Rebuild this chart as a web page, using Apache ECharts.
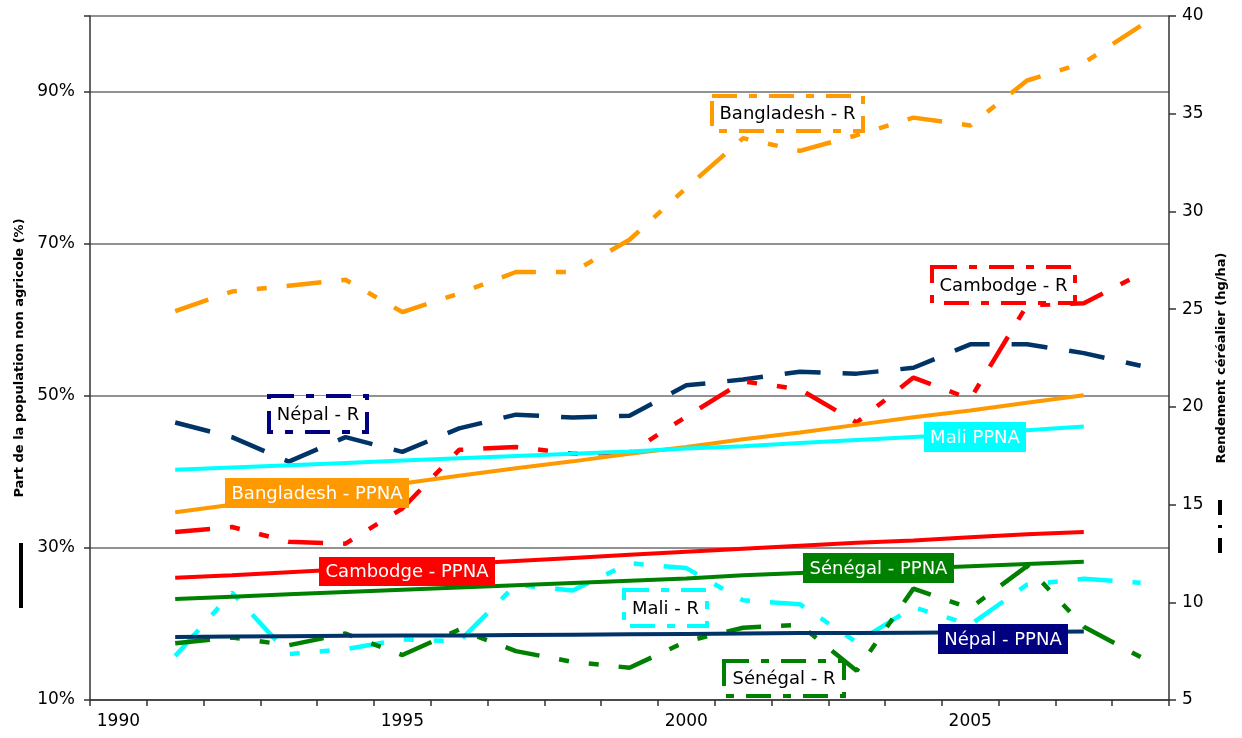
<!DOCTYPE html>
<html>
<head>
<meta charset="utf-8">
<title>PPNA et rendement céréalier</title>
<script src="https://cdn.jsdelivr.net/npm/echarts@6/dist/echarts.min.js"></script>
<style>
  html, body { margin: 0; padding: 0; background: #fff; }
  #main { width: 1242px; height: 738px; }
</style>
</head>
<body>
<div id="main"></div>
<script>
// années (axe des abscisses)
var years = ['1990', '1991', '1992', '1993', '1994', '1995', '1996', '1997', '1998', '1999',
  '2000', '2001', '2002', '2003', '2004', '2005', '2006', '2007', '2008'];

// part de la population non agricole (%), 1991-2007
var bangladeshPPNA = [null, 34.7, 35.7, 36.6, 37.6, 38.5, 39.5, 40.5, 41.4, 42.4, 43.3, 44.3, 45.2, 46.2, 47.2, 48.1, 49.1, 50.1, null];
var maliPPNA = [null, 40.3, 40.6, 40.9, 41.2, 41.5, 41.8, 42.1, 42.4, 42.7, 43.1, 43.4, 43.8, 44.2, 44.6, 45.0, 45.5, 46.0, null];
var cambodgePPNA = [null, 26.1, 26.4, 26.8, 27.2, 27.6, 27.9, 28.3, 28.7, 29.1, 29.5, 29.9, 30.3, 30.7, 31.0, 31.4, 31.8, 32.1, null];
var senegalPPNA = [null, 23.3, 23.6, 23.9, 24.2, 24.5, 24.8, 25.1, 25.4, 25.7, 26.0, 26.4, 26.7, 27.0, 27.3, 27.6, 27.9, 28.2, null];
var nepalPPNA = [null, 18.3, 18.35, 18.4, 18.45, 18.5, 18.5, 18.55, 18.6, 18.65, 18.7, 18.75, 18.8, 18.8, 18.85, 18.9, 18.95, 19.0, null];

// rendement céréalier (hg/ha), 1991-2008
var bangladeshR = [null, 24.9, 25.9, 26.2, 26.5, 24.85, 25.8, 26.9, 26.9, 28.55, 31.2, 33.75, 33.1, 33.9, 34.8, 34.4, 36.7, 37.6, 39.5];
var cambodgeR = [null, 13.6, 13.85, 13.1, 13.0, 14.8, 17.8, 17.95, 17.6, 17.65, 19.5, 21.3, 20.9, 19.2, 21.5, 20.4, 25.2, 25.3, 26.8];
var nepalR = [null, 19.2, 18.45, 17.2, 18.45, 17.7, 18.9, 19.6, 19.45, 19.55, 21.1, 21.4, 21.8, 21.7, 22.0, 23.2, 23.2, 22.75, 22.1];
var maliR = [null, 7.25, 10.5, 7.35, 7.6, 8.1, 8.0, 10.9, 10.6, 12.0, 11.75, 10.1, 9.9, 7.95, 9.75, 8.85, 10.9, 11.2, 11.0];
var senegalR = [null, 7.9, 8.2, 7.8, 8.4, 7.3, 8.6, 7.5, 6.95, 6.65, 8.0, 8.7, 8.85, 6.5, 10.7, 9.7, 11.85, 8.75, 7.2];

var FONT = 'DejaVu Sans';
var longDot = [35, 20, 10, 20, 10, 20];

function ppna(name, data, color) {
  return {
    name: name, type: 'line', yAxisIndex: 0, data: data,
    symbol: 'none', silent: true, z: 3,
    lineStyle: { color: color, width: 4 }
  };
}
function rend(name, data, color, dash) {
  return {
    name: name, type: 'line', yAxisIndex: 1, data: data,
    symbol: 'none', silent: true, z: 2,
    lineStyle: { color: color, width: 4.5, type: dash }
  };
}

// étiquettes posées sur le graphique (zones de texte)
function boxR(x, y, w, h, txt, color) {
  return [
    { type: 'rect', z: 100, shape: { x: x, y: y, width: w, height: h },
      style: { fill: '#fff', stroke: color, lineWidth: 4, lineDash: [25, 12, 8, 12] } },
    { type: 'text', z: 101, style: { x: x + w / 2, y: y + h / 2 + 1, text: txt, fill: '#000',
      font: '18px ' + FONT, align: 'center', verticalAlign: 'middle' } }
  ];
}
function boxPPNA(x, y, w, h, txt, color) {
  return [
    { type: 'rect', z: 100, shape: { x: x, y: y, width: w, height: h }, style: { fill: color } },
    { type: 'text', z: 101, style: { x: x + w / 2, y: y + h / 2 + 1, text: txt, fill: '#fff',
      font: '18px ' + FONT, align: 'center', verticalAlign: 'middle' } }
  ];
}

var chart = echarts.init(document.getElementById('main'));

var labels = [].concat(
  boxR(712, 96, 151, 35, 'Bangladesh - R', '#FF9900'),
  boxR(932, 267, 143, 36, 'Cambodge - R', '#FF0000'),
  boxR(269, 396, 98, 36, 'Népal - R', '#000080'),
  boxR(624, 590, 83, 36, 'Mali - R', '#00FFFF'),
  boxR(724, 661, 120, 35, 'Sénégal - R', '#008000'),
  boxPPNA(225, 478, 184, 30, 'Bangladesh - PPNA', '#FF9900'),
  boxPPNA(924, 422, 102, 30, 'Mali PPNA', '#00FFFF'),
  boxPPNA(319, 557, 176, 29, 'Cambodge - PPNA', '#FF0000'),
  boxPPNA(803, 553, 151, 30, 'Sénégal - PPNA', '#008000'),
  boxPPNA(938, 624, 130, 30, 'Népal - PPNA', '#000080'),
  [
    // restes de légende
    { type: 'line', z: 100, shape: { x1: 21, y1: 543, x2: 21, y2: 608 },
      style: { stroke: '#000', lineWidth: 4 } },
    { type: 'line', z: 100, shape: { x1: 1220, y1: 500, x2: 1220, y2: 555 },
      style: { stroke: '#000', lineWidth: 4, lineDash: [15, 10, 3, 10] } }
  ]
);

var option = {
  animation: false,
  backgroundColor: '#fff',
  grid: { left: 90, right: 73, top: 16, bottom: 38, containLabel: false, outerBoundsMode: 'none' },
  xAxis: {
    type: 'category',
    data: years,
    boundaryGap: true,
    axisLine: { lineStyle: { color: '#333', width: 1.5 } },
    axisTick: { show: true, interval: 0, length: 6, lineStyle: { color: '#333', width: 1.5 } },
    axisLabel: { interval: 4, margin: 13, color: '#000', fontFamily: FONT, fontSize: 17 },
    splitLine: { show: false }
  },
  yAxis: [
    {
      type: 'value', min: 10, max: 100, interval: 20, position: 'left',
      name: 'Part de la population non agricole (%)',
      nameLocation: 'middle', nameGap: 64, nameMoveOverlap: false,
      nameTextStyle: { color: '#000', fontFamily: FONT, fontSize: 13, fontWeight: 'bold' },
      axisLine: { show: true, lineStyle: { color: '#333', width: 1.5 } },
      axisTick: { show: true, length: 6, lineStyle: { color: '#333', width: 1.5 } },
      axisLabel: {
        margin: 15, color: '#000', fontFamily: FONT, fontSize: 17,
        formatter: function (v) { return v >= 100 ? '' : v + '%'; }
      },
      splitLine: { show: true, lineStyle: { color: '#6e6e6e', width: 1.5 } }
    },
    {
      type: 'value', min: 5, max: 40, interval: 5, position: 'right',
      name: 'Rendement céréalier (hg/ha)',
      nameLocation: 'middle', nameGap: 46, nameMoveOverlap: false,
      nameTextStyle: { color: '#000', fontFamily: FONT, fontSize: 13, fontWeight: 'bold' },
      axisLine: { show: true, lineStyle: { color: '#333', width: 1.5 } },
      axisTick: { show: true, length: 7, lineStyle: { color: '#333', width: 1.5 } },
      axisLabel: { margin: 13, color: '#000', fontFamily: FONT, fontSize: 17 },
      splitLine: { show: false }
    }
  ],
  series: [
    rend('Bangladesh - R', bangladeshR, '#FF9900', longDot),
    rend('Népal - R', nepalR, '#003366', [36, 22]),
    rend('Cambodge - R', cambodgeR, '#FF0000', longDot),
    rend('Mali - R', maliR, '#00FFFF', longDot),
    rend('Sénégal - R', senegalR, '#008000', longDot),
    ppna('Bangladesh - PPNA', bangladeshPPNA, '#FF9900'),
    ppna('Mali PPNA', maliPPNA, '#00FFFF'),
    ppna('Cambodge - PPNA', cambodgePPNA, '#FF0000'),
    ppna('Sénégal - PPNA', senegalPPNA, '#008000'),
    ppna('Népal - PPNA', nepalPPNA, '#003366')
  ],
  graphic: labels
};

chart.setOption(option);
</script>
</body>
</html>
